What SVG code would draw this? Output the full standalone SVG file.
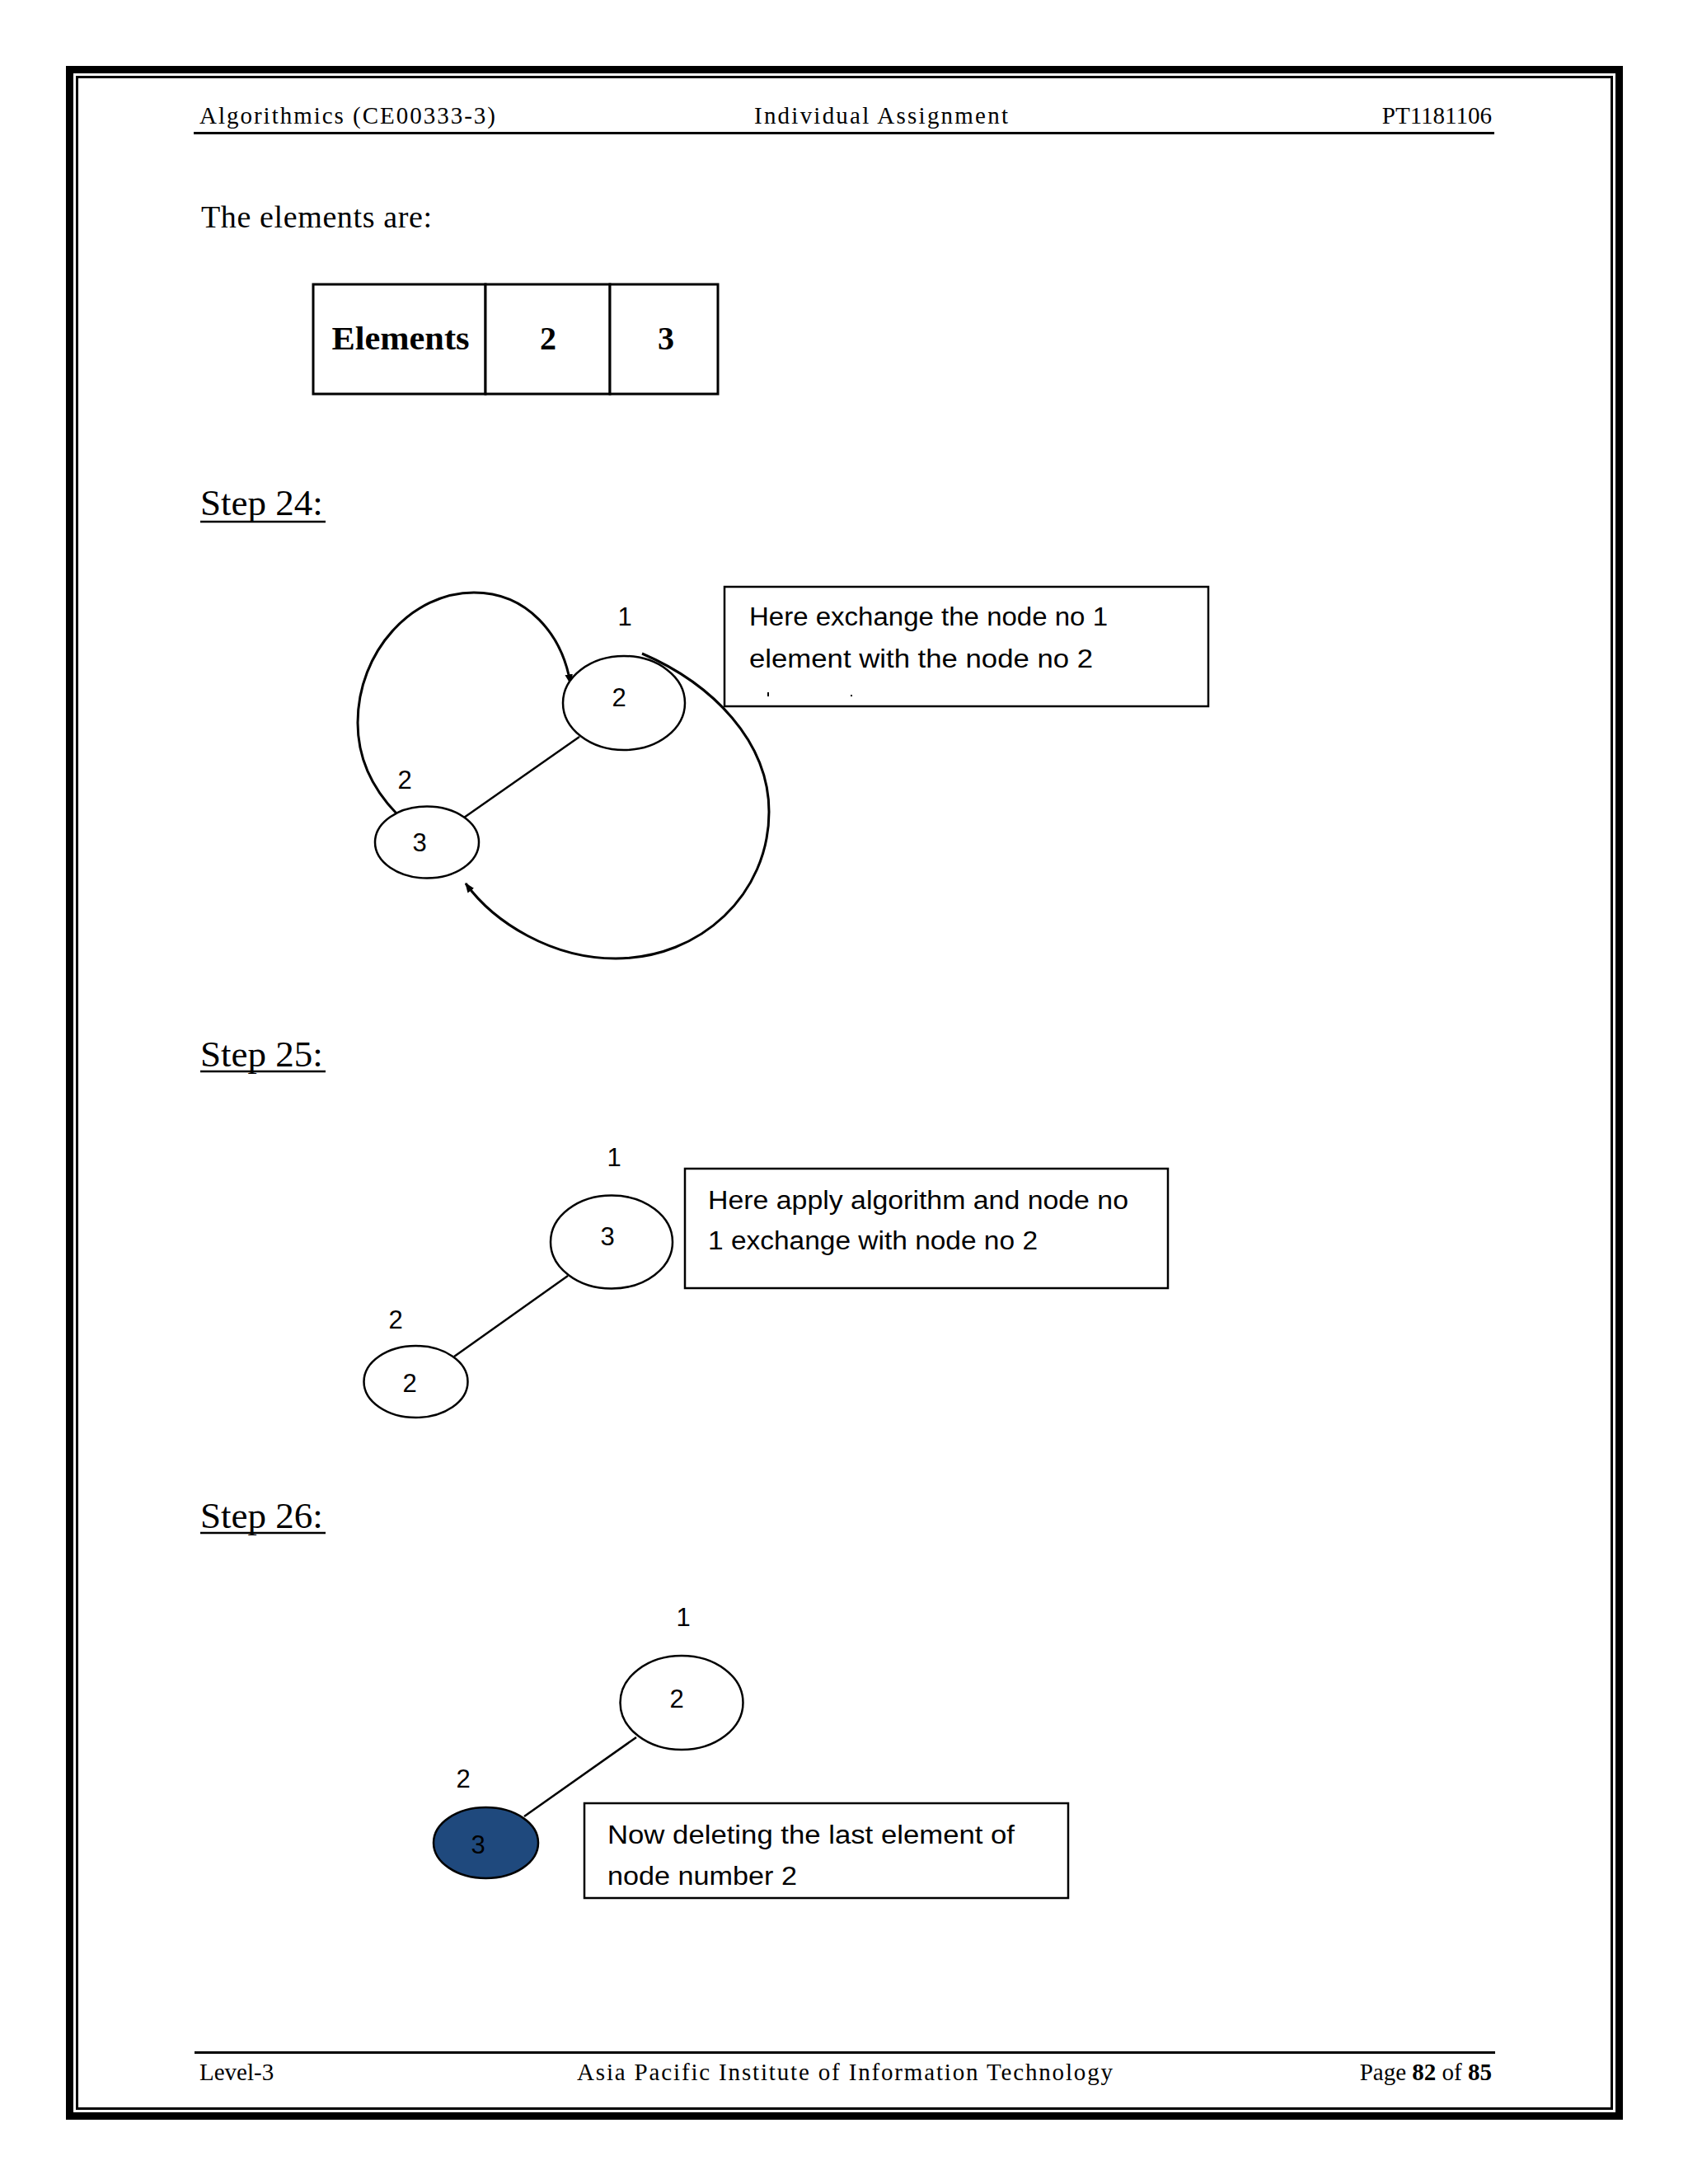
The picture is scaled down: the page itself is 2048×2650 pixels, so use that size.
<svg xmlns="http://www.w3.org/2000/svg" width="2048" height="2650" viewBox="0 0 2048 2650">
<style>
.serif{font-family:"Liberation Serif","Times New Roman",serif;fill:#000}
.hdr{font-size:29px}
.step{font-size:45px}
.sans{font-family:"Liberation Sans",Arial,sans-serif;fill:#000}
.lbl{font-size:31px}
.node{fill:#fff;stroke:#000;stroke-width:2.5}
.edge{stroke:#000;stroke-width:2.5;fill:none}
.arc{stroke:#000;stroke-width:3;fill:none}
.box{fill:#fff;stroke:#000;stroke-width:2.5}
.cell{fill:#fff;stroke:#000;stroke-width:3}
</style>
<defs>
<marker id="ah" viewBox="0 0 10 10" refX="9" refY="5" markerWidth="4" markerHeight="4" orient="auto" markerUnits="strokeWidth">
<path d="M0,1 L10,5 L0,9 Z" fill="#000"/>
</marker>
</defs>
<rect x="0" y="0" width="2048" height="2650" fill="#fff"/>
<!-- page border -->
<rect x="84.5" y="84.5" width="1880" height="2483" fill="none" stroke="#000" stroke-width="9"/>
<rect x="93.5" y="93.5" width="1862" height="2465" fill="none" stroke="#000" stroke-width="3"/>
<!-- header -->
<g id="header">
<text class="serif hdr" x="242" y="150" textLength="359" lengthAdjust="spacing">Algorithmics (CE00333-3)</text>
<text class="serif hdr" x="915" y="150" textLength="308" lengthAdjust="spacing">Individual Assignment</text>
<text class="serif hdr" x="1810" y="150" text-anchor="end">PT1181106</text>
<line x1="235" y1="161.5" x2="1813" y2="161.5" stroke="#000" stroke-width="3"/>
</g>
<text class="serif" x="244" y="276" font-size="38" textLength="280" lengthAdjust="spacing">The elements are:</text>
<!-- table -->
<g id="table">
<rect class="cell" x="380" y="345" width="209" height="133"/>
<rect class="cell" x="589" y="345" width="151" height="133"/>
<rect class="cell" x="740" y="345" width="131" height="133"/>
<text class="serif" x="486" y="424" font-size="40" font-weight="bold" text-anchor="middle" textLength="167" lengthAdjust="spacingAndGlyphs">Elements</text>
<text class="serif" x="665" y="424" font-size="40" font-weight="bold" text-anchor="middle">2</text>
<text class="serif" x="808" y="424" font-size="40" font-weight="bold" text-anchor="middle">3</text>
</g>
<!-- Step 24 -->
<g id="step24-title">
<text class="serif step" x="243" y="625">Step 24:</text>
<line x1="243" y1="633" x2="395" y2="633" stroke="#000" stroke-width="2.5"/>
</g>
<g id="s24-connectors">
<line class="edge" x1="703" y1="894" x2="563" y2="992"/>
<path class="arc" d="M481,987 C455,960 434,925 434,877 C434,790 500,719 575,719 C640,719 682,770 692,829" marker-end="url(#ah)"/>
<path class="arc" d="M779,793 C865,830 933,900 933,985 C933,1085 850,1163 747,1163 C670,1163 600,1120 565,1072" marker-end="url(#ah)"/>
</g>
<g id="s24-n1">
<ellipse class="node" cx="757" cy="853" rx="74" ry="57"/>
<text class="sans lbl" x="751" y="857" text-anchor="middle">2</text>
<text class="sans lbl" x="758" y="759" text-anchor="middle">1</text>
</g>
<g id="s24-n2">
<ellipse class="node" cx="518" cy="1022" rx="63" ry="43.5"/>
<text class="sans lbl" x="509" y="1033" text-anchor="middle">3</text>
<text class="sans lbl" x="491" y="957" text-anchor="middle">2</text>
</g>
<g id="s24-note">
<rect class="box" x="879" y="712" width="587" height="145"/>
<text class="sans lbl" x="909" y="759" textLength="435" lengthAdjust="spacingAndGlyphs">Here exchange the node no 1</text>
<text class="sans lbl" x="909" y="810" textLength="417" lengthAdjust="spacingAndGlyphs">element with the node no 2</text>
<line x1="932" y1="840" x2="932" y2="845" stroke="#000" stroke-width="2"/>
<line x1="1033" y1="843" x2="1033" y2="845" stroke="#000" stroke-width="2"/>
</g>
<!-- Step 25 -->
<g id="step25-title">
<text class="serif step" x="243" y="1294">Step 25:</text>
<line x1="243" y1="1300" x2="395" y2="1300" stroke="#000" stroke-width="2.5"/>
</g>
<g id="s25-connectors">
<line class="edge" x1="689" y1="1548" x2="551" y2="1646"/>
</g>
<g id="s25-n1">
<ellipse class="node" cx="742" cy="1507" rx="74" ry="56.5"/>
<text class="sans lbl" x="737" y="1511" text-anchor="middle">3</text>
<text class="sans lbl" x="745" y="1415" text-anchor="middle">1</text>
</g>
<g id="s25-n2">
<ellipse class="node" cx="504.5" cy="1676.5" rx="63" ry="43.5"/>
<text class="sans lbl" x="497" y="1689" text-anchor="middle">2</text>
<text class="sans lbl" x="480" y="1612" text-anchor="middle">2</text>
</g>
<g id="s25-note">
<rect class="box" x="831" y="1418" width="586" height="145"/>
<text class="sans lbl" x="859" y="1467" textLength="510" lengthAdjust="spacingAndGlyphs">Here apply algorithm and node no</text>
<text class="sans lbl" x="859" y="1516" textLength="400" lengthAdjust="spacingAndGlyphs">1 exchange with node no 2</text>
</g>
<!-- Step 26 -->
<g id="step26-title">
<text class="serif step" x="243" y="1854">Step 26:</text>
<line x1="243" y1="1860" x2="395" y2="1860" stroke="#000" stroke-width="2.5"/>
</g>
<g id="s26-connectors">
<line class="edge" x1="772" y1="2108" x2="636" y2="2204"/>
</g>
<g id="s26-n1">
<ellipse class="node" cx="827" cy="2066" rx="74.5" ry="57"/>
<text class="sans lbl" x="821" y="2072" text-anchor="middle">2</text>
<text class="sans lbl" x="829" y="1973" text-anchor="middle">1</text>
</g>
<g id="s26-n2">
<ellipse cx="589.5" cy="2236" rx="63.5" ry="43" fill="#1f497d" stroke="#000" stroke-width="2.5"/>
<text class="sans lbl" x="580" y="2249" text-anchor="middle">3</text>
<text class="sans lbl" x="562" y="2169" text-anchor="middle">2</text>
</g>
<g id="s26-note">
<rect class="box" x="709" y="2188" width="587" height="115"/>
<text class="sans lbl" x="737" y="2237" textLength="494" lengthAdjust="spacingAndGlyphs">Now deleting the last element of</text>
<text class="sans lbl" x="737" y="2287" textLength="230" lengthAdjust="spacingAndGlyphs">node number 2</text>
</g>
<!-- footer -->
<g id="footer">
<line x1="236" y1="2490.5" x2="1814" y2="2490.5" stroke="#000" stroke-width="3"/>
<text class="serif hdr" x="242" y="2524">Level-3</text>
<text class="serif hdr" x="700" y="2524" textLength="650" lengthAdjust="spacing">Asia Pacific Institute of Information Technology</text>
<text class="serif hdr" x="1810" y="2524" text-anchor="end">Page <tspan font-weight="bold">82</tspan> of <tspan font-weight="bold">85</tspan></text>
</g>
</svg>
